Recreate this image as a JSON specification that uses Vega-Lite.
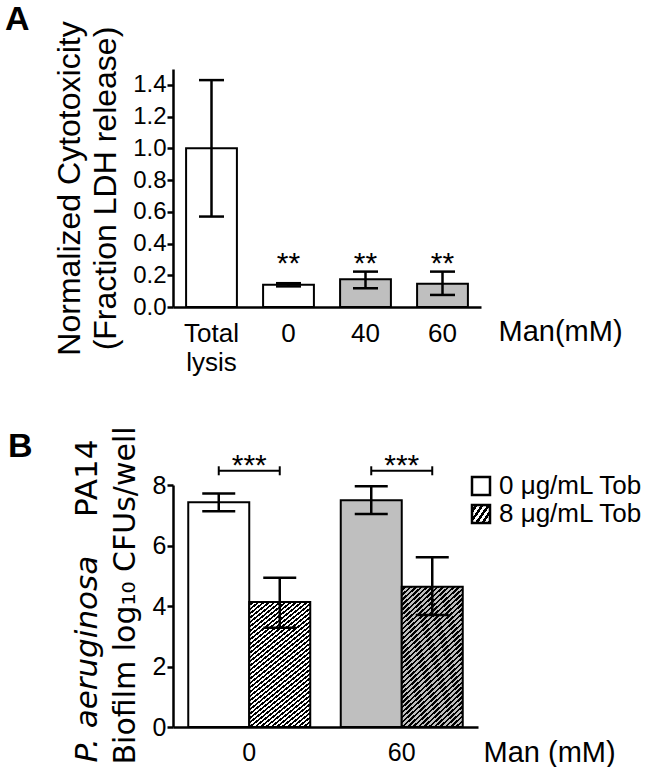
{
"$schema":"https://vega.github.io/schema/vega-lite/v6.json",
"padding":{"left":5,"top":2,"right":0,"bottom":0},
"background":"white",
"config":{
 "view":{"stroke":null},
 "font":"Liberation Sans",
 "axis":{"domainColor":"black","domainWidth":2.5,"tickColor":"black","tickWidth":2.5,"tickSize":6,"labelColor":"black","titleColor":"black","grid":false,"labelFont":"Liberation Sans","titleFont":"Liberation Sans","titleFontWeight":"normal"}
},
"datasets":{
 "lysis":[
  {"cond":"Total lysis","man_added":"no","mean":1.0,"lo":0.57,"hi":1.43,"sig":""},
  {"cond":"0","man_added":"no","mean":0.14,"lo":0.13,"hi":0.15,"sig":"**","sig_y":0.215},
  {"cond":"40","man_added":"yes","mean":0.175,"lo":0.118,"hi":0.223,"sig":"**","sig_y":0.215},
  {"cond":"60","man_added":"yes","mean":0.147,"lo":0.076,"hi":0.223,"sig":"**","sig_y":0.215}
 ],
 "bio":[
  {"man":"0","tob":"0 μg/mL Tob","mean":7.43,"lo":7.13,"hi":7.72},
  {"man":"0","tob":"8 μg/mL Tob","mean":4.13,"lo":3.28,"hi":4.93},
  {"man":"60","tob":"0 μg/mL Tob","mean":7.50,"lo":7.04,"hi":7.96},
  {"man":"60","tob":"8 μg/mL Tob","mean":4.64,"lo":3.70,"hi":5.61}
 ],
 "brackets":[
  {"man":"0","y":8.47,"stars":"***"},
  {"man":"60","y":8.47,"stars":"***"}
 ]
},
"spacing":50,
"vconcat":[
 {
  "width":308,"height":238,
  "title":{"text":"A","anchor":"start","frame":"group","font":"Liberation Sans","fontSize":34,"fontWeight":"bold","color":"black","dx":-168,"offset":-16},
  "data":{"name":"lysis"},
  "encoding":{
   "x":{"field":"cond","type":"nominal","sort":null,"scale":{"paddingInner":0.34,"paddingOuter":0.17},
    "axis":{"title":"Man(mM)","labelAngle":0,"labelFontSize":26,"labelExpr":"split(datum.value,' ')","labelLineHeight":29,"labelPadding":13,"ticks":false,"tickSize":0,"titleFontSize":29,"titleX":325,"titleY":24,"titleAlign":"left","titleBaseline":"middle","titleAnchor":"start"}}
  },
  "layer":[
   {"mark":{"type":"bar","stroke":"black","strokeWidth":2},
    "encoding":{
     "y":{"field":"mean","type":"quantitative","scale":{"domain":[0,1.5],"nice":false},
      "axis":{"title":["Normalized Cytotoxicity","(Fraction LDH release)"],"titleFontSize":32,"titleLineHeight":36,"titlePadding":10,"labelFontSize":24,"labelPadding":1,"values":[0,0.2,0.4,0.6,0.8,1.0,1.2,1.4],"format":".1f","labelOverlap":false}},
     "fill":{"field":"man_added","type":"nominal","scale":{"domain":["no","yes"],"range":["white","#bfbfbf"]},"legend":null}
    }},
   {"mark":{"type":"rule","strokeWidth":2.5,"color":"black"},
    "encoding":{"y":{"field":"lo","type":"quantitative","scale":{"domain":[0,1.5],"nice":false},
      "axis":{"title":["Normalized Cytotoxicity","(Fraction LDH release)"],"titleFontSize":32,"titleLineHeight":36,"titlePadding":10,"labelFontSize":24,"labelPadding":1,"values":[0,0.2,0.4,0.6,0.8,1.0,1.2,1.4],"format":".1f","labelOverlap":false}},"y2":{"field":"hi"}}},
   {"mark":{"type":"tick","color":"black","opacity":1,"thickness":2.5,"size":25},
    "encoding":{"y":{"field":"hi","type":"quantitative","scale":{"domain":[0,1.5],"nice":false},
      "axis":{"title":["Normalized Cytotoxicity","(Fraction LDH release)"],"titleFontSize":32,"titleLineHeight":36,"titlePadding":10,"labelFontSize":24,"labelPadding":1,"values":[0,0.2,0.4,0.6,0.8,1.0,1.2,1.4],"format":".1f","labelOverlap":false}}}},
   {"mark":{"type":"tick","color":"black","opacity":1,"thickness":2.5,"size":25},
    "encoding":{"y":{"field":"lo","type":"quantitative","scale":{"domain":[0,1.5],"nice":false},
      "axis":{"title":["Normalized Cytotoxicity","(Fraction LDH release)"],"titleFontSize":32,"titleLineHeight":36,"titlePadding":10,"labelFontSize":24,"labelPadding":1,"values":[0,0.2,0.4,0.6,0.8,1.0,1.2,1.4],"format":".1f","labelOverlap":false}}}},
   {"mark":{"type":"text","font":"Liberation Sans","fontSize":30,"baseline":"alphabetic","color":"black"},
    "encoding":{"y":{"field":"sig_y","type":"quantitative","scale":{"domain":[0,1.5],"nice":false},
      "axis":{"title":["Normalized Cytotoxicity","(Fraction LDH release)"],"titleFontSize":32,"titleLineHeight":36,"titlePadding":10,"labelFontSize":24,"labelPadding":1,"values":[0,0.2,0.4,0.6,0.8,1.0,1.2,1.4],"format":".1f","labelOverlap":false}},"text":{"field":"sig"}}}
  ]
 },
 {
  "width":305,"height":242,
  "title":{"text":"B","anchor":"start","frame":"group","font":"Liberation Sans","fontSize":34,"fontWeight":"bold","color":"black","dx":-165,"offset":-38},
  "layer":[
   {"layer":[
    {"data":{"name":"bio"},
     "transform":[{"filter":"datum.tob === '0 μg/mL Tob'"}],
     "mark":{"type":"bar","strokeWidth":2,"stroke":"black"},
     "encoding":{
      "x":{"field":"man","type":"nominal","sort":null,"scale":{"domain":["0","60"],"paddingInner":0.2,"paddingOuter":0.1},
       "axis":{"title":"Man (mM)","labelAngle":0,"labelFontSize":25,"labelPadding":13,"ticks":false,"tickSize":0,"titleFontSize":29,"titleX":310,"titleY":25,"titleAlign":"left","titleBaseline":"middle","titleAnchor":"start"}},
      "xOffset":{"field":"tob","type":"nominal","sort":null,"scale":{"domain":["0 μg/mL Tob","8 μg/mL Tob"],"paddingInner":0,"paddingOuter":0}},
      "y":{"field":"mean","type":"quantitative","scale":{"domain":[0,8],"nice":false},
       "axis":{"title":"Biofilm log₁₀ CFUs/well","titleFont":"DejaVu Sans","titleFontSize":30,"titlePadding":12,"titleAlign":"left","titleY":279,"labelFontSize":25,"labelPadding":1,"values":[0,2,4,6,8],"labelOverlap":false}},
      "color":{"field":"man","type":"nominal","scale":{"domain":["0","60"],"range":["white","#bfbfbf"]},"legend":null},
      "stroke":{"field":"tob","type":"nominal","scale":{"domain":["0 μg/mL Tob"],"range":["black"]},
       "legend":{"title":null,"orient":"none","legendX":295,"legendY":-12,"symbolType":"square","symbolSize":324,"symbolOpacity":1,"symbolFillColor":"white","symbolStrokeWidth":2.5,"labelFontSize":26,"labelFont":"Liberation Sans","labelColor":"black","labelOffset":5,"padding":0,"labelLimit":400}}
     }},
    {"data":{"name":"bio"},
     "transform":[{"filter":"datum.tob === '8 μg/mL Tob'"}],
     "mark":{"type":"bar","strokeWidth":2.5,"opacity":0},
     "encoding":{
      "x":{"field":"man","type":"nominal","sort":null},
      "xOffset":{"field":"tob","type":"nominal","sort":null},
      "y":{"field":"mean","type":"quantitative","scale":{"domain":[0,8],"nice":false}},
      "fill":{"field":"tob","type":"nominal","scale":{"range":["white"]},"legend":null},
      "stroke":{"field":"tob","type":"nominal","scale":{"domain":["8 μg/mL Tob"],"range":["black"]},
       "legend":{"title":null,"orient":"none","legendX":295,"legendY":16,"symbolType":"square","symbolSize":324,"symbolOpacity":1,"symbolStrokeWidth":2.5,"labelFontSize":26,"labelFont":"Liberation Sans","labelColor":"black","labelOffset":5,"padding":0,"labelLimit":400,
        "symbolFillColor":{"expr":"{gradient:'linear',x1:0,y1:0,x2:1.141,y2:0.799,stops:[{offset:0,color:'#fff'},{offset:0.1,color:'#fff'},{offset:0.1,color:'#000'},{offset:0.2,color:'#000'},{offset:0.2,color:'#fff'},{offset:0.3,color:'#fff'},{offset:0.3,color:'#000'},{offset:0.4,color:'#000'},{offset:0.4,color:'#fff'},{offset:0.5,color:'#fff'},{offset:0.5,color:'#000'},{offset:0.6,color:'#000'},{offset:0.6,color:'#fff'},{offset:0.7,color:'#fff'},{offset:0.7,color:'#000'},{offset:0.8,color:'#000'},{offset:0.8,color:'#fff'},{offset:0.9,color:'#fff'},{offset:0.9,color:'#000'},{offset:1,color:'#000'}]}"}}}
     }},
    {"data":{"name":"bio"},
     "transform":[{"filter":"datum.tob === '8 μg/mL Tob' && datum.man === '0'"}],
     "mark":{"type":"bar","strokeWidth":2,"stroke":"black",
      "fill":{"gradient":"linear","x1":0,"y1":0,"x2":0.476,"y2":1.207,"stops":[{"offset":0,"color":"#fff"},{"offset":0.0125,"color":"#fff"},{"offset":0.0125,"color":"#000"},{"offset":0.025,"color":"#000"},{"offset":0.025,"color":"#fff"},{"offset":0.0375,"color":"#fff"},{"offset":0.0375,"color":"#000"},{"offset":0.05,"color":"#000"},{"offset":0.05,"color":"#fff"},{"offset":0.0625,"color":"#fff"},{"offset":0.0625,"color":"#000"},{"offset":0.075,"color":"#000"},{"offset":0.075,"color":"#fff"},{"offset":0.0875,"color":"#fff"},{"offset":0.0875,"color":"#000"},{"offset":0.1,"color":"#000"},{"offset":0.1,"color":"#fff"},{"offset":0.1125,"color":"#fff"},{"offset":0.1125,"color":"#000"},{"offset":0.125,"color":"#000"},{"offset":0.125,"color":"#fff"},{"offset":0.1375,"color":"#fff"},{"offset":0.1375,"color":"#000"},{"offset":0.15,"color":"#000"},{"offset":0.15,"color":"#fff"},{"offset":0.1625,"color":"#fff"},{"offset":0.1625,"color":"#000"},{"offset":0.175,"color":"#000"},{"offset":0.175,"color":"#fff"},{"offset":0.1875,"color":"#fff"},{"offset":0.1875,"color":"#000"},{"offset":0.2,"color":"#000"},{"offset":0.2,"color":"#fff"},{"offset":0.2125,"color":"#fff"},{"offset":0.2125,"color":"#000"},{"offset":0.225,"color":"#000"},{"offset":0.225,"color":"#fff"},{"offset":0.2375,"color":"#fff"},{"offset":0.2375,"color":"#000"},{"offset":0.25,"color":"#000"},{"offset":0.25,"color":"#fff"},{"offset":0.2625,"color":"#fff"},{"offset":0.2625,"color":"#000"},{"offset":0.275,"color":"#000"},{"offset":0.275,"color":"#fff"},{"offset":0.2875,"color":"#fff"},{"offset":0.2875,"color":"#000"},{"offset":0.3,"color":"#000"},{"offset":0.3,"color":"#fff"},{"offset":0.3125,"color":"#fff"},{"offset":0.3125,"color":"#000"},{"offset":0.325,"color":"#000"},{"offset":0.325,"color":"#fff"},{"offset":0.3375,"color":"#fff"},{"offset":0.3375,"color":"#000"},{"offset":0.35,"color":"#000"},{"offset":0.35,"color":"#fff"},{"offset":0.3625,"color":"#fff"},{"offset":0.3625,"color":"#000"},{"offset":0.375,"color":"#000"},{"offset":0.375,"color":"#fff"},{"offset":0.3875,"color":"#fff"},{"offset":0.3875,"color":"#000"},{"offset":0.4,"color":"#000"},{"offset":0.4,"color":"#fff"},{"offset":0.4125,"color":"#fff"},{"offset":0.4125,"color":"#000"},{"offset":0.425,"color":"#000"},{"offset":0.425,"color":"#fff"},{"offset":0.4375,"color":"#fff"},{"offset":0.4375,"color":"#000"},{"offset":0.45,"color":"#000"},{"offset":0.45,"color":"#fff"},{"offset":0.4625,"color":"#fff"},{"offset":0.4625,"color":"#000"},{"offset":0.475,"color":"#000"},{"offset":0.475,"color":"#fff"},{"offset":0.4875,"color":"#fff"},{"offset":0.4875,"color":"#000"},{"offset":0.5,"color":"#000"},{"offset":0.5,"color":"#fff"},{"offset":0.5125,"color":"#fff"},{"offset":0.5125,"color":"#000"},{"offset":0.525,"color":"#000"},{"offset":0.525,"color":"#fff"},{"offset":0.5375,"color":"#fff"},{"offset":0.5375,"color":"#000"},{"offset":0.55,"color":"#000"},{"offset":0.55,"color":"#fff"},{"offset":0.5625,"color":"#fff"},{"offset":0.5625,"color":"#000"},{"offset":0.575,"color":"#000"},{"offset":0.575,"color":"#fff"},{"offset":0.5875,"color":"#fff"},{"offset":0.5875,"color":"#000"},{"offset":0.6,"color":"#000"},{"offset":0.6,"color":"#fff"},{"offset":0.6125,"color":"#fff"},{"offset":0.6125,"color":"#000"},{"offset":0.625,"color":"#000"},{"offset":0.625,"color":"#fff"},{"offset":0.6375,"color":"#fff"},{"offset":0.6375,"color":"#000"},{"offset":0.65,"color":"#000"},{"offset":0.65,"color":"#fff"},{"offset":0.6625,"color":"#fff"},{"offset":0.6625,"color":"#000"},{"offset":0.675,"color":"#000"},{"offset":0.675,"color":"#fff"},{"offset":0.6875,"color":"#fff"},{"offset":0.6875,"color":"#000"},{"offset":0.7,"color":"#000"},{"offset":0.7,"color":"#fff"},{"offset":0.7125,"color":"#fff"},{"offset":0.7125,"color":"#000"},{"offset":0.725,"color":"#000"},{"offset":0.725,"color":"#fff"},{"offset":0.7375,"color":"#fff"},{"offset":0.7375,"color":"#000"},{"offset":0.75,"color":"#000"},{"offset":0.75,"color":"#fff"},{"offset":0.7625,"color":"#fff"},{"offset":0.7625,"color":"#000"},{"offset":0.775,"color":"#000"},{"offset":0.775,"color":"#fff"},{"offset":0.7875,"color":"#fff"},{"offset":0.7875,"color":"#000"},{"offset":0.8,"color":"#000"},{"offset":0.8,"color":"#fff"},{"offset":0.8125,"color":"#fff"},{"offset":0.8125,"color":"#000"},{"offset":0.825,"color":"#000"},{"offset":0.825,"color":"#fff"},{"offset":0.8375,"color":"#fff"},{"offset":0.8375,"color":"#000"},{"offset":0.85,"color":"#000"},{"offset":0.85,"color":"#fff"},{"offset":0.8625,"color":"#fff"},{"offset":0.8625,"color":"#000"},{"offset":0.875,"color":"#000"},{"offset":0.875,"color":"#fff"},{"offset":0.8875,"color":"#fff"},{"offset":0.8875,"color":"#000"},{"offset":0.9,"color":"#000"},{"offset":0.9,"color":"#fff"},{"offset":0.9125,"color":"#fff"},{"offset":0.9125,"color":"#000"},{"offset":0.925,"color":"#000"},{"offset":0.925,"color":"#fff"},{"offset":0.9375,"color":"#fff"},{"offset":0.9375,"color":"#000"},{"offset":0.95,"color":"#000"},{"offset":0.95,"color":"#fff"},{"offset":0.9625,"color":"#fff"},{"offset":0.9625,"color":"#000"},{"offset":0.975,"color":"#000"},{"offset":0.975,"color":"#fff"},{"offset":0.9875,"color":"#fff"},{"offset":0.9875,"color":"#000"},{"offset":1,"color":"#000"}]}},
     "encoding":{
      "x":{"field":"man","type":"nominal","sort":null},
      "xOffset":{"field":"tob","type":"nominal","sort":null},
      "y":{"field":"mean","type":"quantitative","scale":{"domain":[0,8],"nice":false}}
     }},
    {"data":{"name":"bio"},
     "transform":[{"filter":"datum.tob === '8 μg/mL Tob' && datum.man === '60'"}],
     "mark":{"type":"bar","strokeWidth":2,"stroke":"black",
      "fill":{"gradient":"linear","x1":0,"y1":0,"x2":0.476,"y2":1.207,"stops":[{"offset":0,"color":"#bfbfbf"},{"offset":0.0125,"color":"#bfbfbf"},{"offset":0.0125,"color":"#000"},{"offset":0.025,"color":"#000"},{"offset":0.025,"color":"#bfbfbf"},{"offset":0.0375,"color":"#bfbfbf"},{"offset":0.0375,"color":"#000"},{"offset":0.05,"color":"#000"},{"offset":0.05,"color":"#bfbfbf"},{"offset":0.0625,"color":"#bfbfbf"},{"offset":0.0625,"color":"#000"},{"offset":0.075,"color":"#000"},{"offset":0.075,"color":"#bfbfbf"},{"offset":0.0875,"color":"#bfbfbf"},{"offset":0.0875,"color":"#000"},{"offset":0.1,"color":"#000"},{"offset":0.1,"color":"#bfbfbf"},{"offset":0.1125,"color":"#bfbfbf"},{"offset":0.1125,"color":"#000"},{"offset":0.125,"color":"#000"},{"offset":0.125,"color":"#bfbfbf"},{"offset":0.1375,"color":"#bfbfbf"},{"offset":0.1375,"color":"#000"},{"offset":0.15,"color":"#000"},{"offset":0.15,"color":"#bfbfbf"},{"offset":0.1625,"color":"#bfbfbf"},{"offset":0.1625,"color":"#000"},{"offset":0.175,"color":"#000"},{"offset":0.175,"color":"#bfbfbf"},{"offset":0.1875,"color":"#bfbfbf"},{"offset":0.1875,"color":"#000"},{"offset":0.2,"color":"#000"},{"offset":0.2,"color":"#bfbfbf"},{"offset":0.2125,"color":"#bfbfbf"},{"offset":0.2125,"color":"#000"},{"offset":0.225,"color":"#000"},{"offset":0.225,"color":"#bfbfbf"},{"offset":0.2375,"color":"#bfbfbf"},{"offset":0.2375,"color":"#000"},{"offset":0.25,"color":"#000"},{"offset":0.25,"color":"#bfbfbf"},{"offset":0.2625,"color":"#bfbfbf"},{"offset":0.2625,"color":"#000"},{"offset":0.275,"color":"#000"},{"offset":0.275,"color":"#bfbfbf"},{"offset":0.2875,"color":"#bfbfbf"},{"offset":0.2875,"color":"#000"},{"offset":0.3,"color":"#000"},{"offset":0.3,"color":"#bfbfbf"},{"offset":0.3125,"color":"#bfbfbf"},{"offset":0.3125,"color":"#000"},{"offset":0.325,"color":"#000"},{"offset":0.325,"color":"#bfbfbf"},{"offset":0.3375,"color":"#bfbfbf"},{"offset":0.3375,"color":"#000"},{"offset":0.35,"color":"#000"},{"offset":0.35,"color":"#bfbfbf"},{"offset":0.3625,"color":"#bfbfbf"},{"offset":0.3625,"color":"#000"},{"offset":0.375,"color":"#000"},{"offset":0.375,"color":"#bfbfbf"},{"offset":0.3875,"color":"#bfbfbf"},{"offset":0.3875,"color":"#000"},{"offset":0.4,"color":"#000"},{"offset":0.4,"color":"#bfbfbf"},{"offset":0.4125,"color":"#bfbfbf"},{"offset":0.4125,"color":"#000"},{"offset":0.425,"color":"#000"},{"offset":0.425,"color":"#bfbfbf"},{"offset":0.4375,"color":"#bfbfbf"},{"offset":0.4375,"color":"#000"},{"offset":0.45,"color":"#000"},{"offset":0.45,"color":"#bfbfbf"},{"offset":0.4625,"color":"#bfbfbf"},{"offset":0.4625,"color":"#000"},{"offset":0.475,"color":"#000"},{"offset":0.475,"color":"#bfbfbf"},{"offset":0.4875,"color":"#bfbfbf"},{"offset":0.4875,"color":"#000"},{"offset":0.5,"color":"#000"},{"offset":0.5,"color":"#bfbfbf"},{"offset":0.5125,"color":"#bfbfbf"},{"offset":0.5125,"color":"#000"},{"offset":0.525,"color":"#000"},{"offset":0.525,"color":"#bfbfbf"},{"offset":0.5375,"color":"#bfbfbf"},{"offset":0.5375,"color":"#000"},{"offset":0.55,"color":"#000"},{"offset":0.55,"color":"#bfbfbf"},{"offset":0.5625,"color":"#bfbfbf"},{"offset":0.5625,"color":"#000"},{"offset":0.575,"color":"#000"},{"offset":0.575,"color":"#bfbfbf"},{"offset":0.5875,"color":"#bfbfbf"},{"offset":0.5875,"color":"#000"},{"offset":0.6,"color":"#000"},{"offset":0.6,"color":"#bfbfbf"},{"offset":0.6125,"color":"#bfbfbf"},{"offset":0.6125,"color":"#000"},{"offset":0.625,"color":"#000"},{"offset":0.625,"color":"#bfbfbf"},{"offset":0.6375,"color":"#bfbfbf"},{"offset":0.6375,"color":"#000"},{"offset":0.65,"color":"#000"},{"offset":0.65,"color":"#bfbfbf"},{"offset":0.6625,"color":"#bfbfbf"},{"offset":0.6625,"color":"#000"},{"offset":0.675,"color":"#000"},{"offset":0.675,"color":"#bfbfbf"},{"offset":0.6875,"color":"#bfbfbf"},{"offset":0.6875,"color":"#000"},{"offset":0.7,"color":"#000"},{"offset":0.7,"color":"#bfbfbf"},{"offset":0.7125,"color":"#bfbfbf"},{"offset":0.7125,"color":"#000"},{"offset":0.725,"color":"#000"},{"offset":0.725,"color":"#bfbfbf"},{"offset":0.7375,"color":"#bfbfbf"},{"offset":0.7375,"color":"#000"},{"offset":0.75,"color":"#000"},{"offset":0.75,"color":"#bfbfbf"},{"offset":0.7625,"color":"#bfbfbf"},{"offset":0.7625,"color":"#000"},{"offset":0.775,"color":"#000"},{"offset":0.775,"color":"#bfbfbf"},{"offset":0.7875,"color":"#bfbfbf"},{"offset":0.7875,"color":"#000"},{"offset":0.8,"color":"#000"},{"offset":0.8,"color":"#bfbfbf"},{"offset":0.8125,"color":"#bfbfbf"},{"offset":0.8125,"color":"#000"},{"offset":0.825,"color":"#000"},{"offset":0.825,"color":"#bfbfbf"},{"offset":0.8375,"color":"#bfbfbf"},{"offset":0.8375,"color":"#000"},{"offset":0.85,"color":"#000"},{"offset":0.85,"color":"#bfbfbf"},{"offset":0.8625,"color":"#bfbfbf"},{"offset":0.8625,"color":"#000"},{"offset":0.875,"color":"#000"},{"offset":0.875,"color":"#bfbfbf"},{"offset":0.8875,"color":"#bfbfbf"},{"offset":0.8875,"color":"#000"},{"offset":0.9,"color":"#000"},{"offset":0.9,"color":"#bfbfbf"},{"offset":0.9125,"color":"#bfbfbf"},{"offset":0.9125,"color":"#000"},{"offset":0.925,"color":"#000"},{"offset":0.925,"color":"#bfbfbf"},{"offset":0.9375,"color":"#bfbfbf"},{"offset":0.9375,"color":"#000"},{"offset":0.95,"color":"#000"},{"offset":0.95,"color":"#bfbfbf"},{"offset":0.9625,"color":"#bfbfbf"},{"offset":0.9625,"color":"#000"},{"offset":0.975,"color":"#000"},{"offset":0.975,"color":"#bfbfbf"},{"offset":0.9875,"color":"#bfbfbf"},{"offset":0.9875,"color":"#000"},{"offset":1,"color":"#000"}]}},
     "encoding":{
      "x":{"field":"man","type":"nominal","sort":null},
      "xOffset":{"field":"tob","type":"nominal","sort":null},
      "y":{"field":"mean","type":"quantitative","scale":{"domain":[0,8],"nice":false}}
     }},
    {"data":{"name":"bio"},
     "mark":{"type":"rule","strokeWidth":2.5,"color":"black"},
     "encoding":{
      "x":{"field":"man","type":"nominal","sort":null},
      "xOffset":{"field":"tob","type":"nominal","sort":null},
      "y":{"field":"lo","type":"quantitative","scale":{"domain":[0,8],"nice":false}},
      "y2":{"field":"hi"}}},
    {"data":{"name":"bio"},
     "mark":{"type":"tick","color":"black","opacity":1,"thickness":2.5,"size":33},
     "encoding":{
      "x":{"field":"man","type":"nominal","sort":null},
      "xOffset":{"field":"tob","type":"nominal","sort":null},
      "y":{"field":"hi","type":"quantitative","scale":{"domain":[0,8],"nice":false}}}},
    {"data":{"name":"bio"},
     "mark":{"type":"tick","color":"black","opacity":1,"thickness":2.5,"size":33},
     "encoding":{
      "x":{"field":"man","type":"nominal","sort":null},
      "xOffset":{"field":"tob","type":"nominal","sort":null},
      "y":{"field":"lo","type":"quantitative","scale":{"domain":[0,8],"nice":false}}}},
    {"data":{"name":"brackets"},
     "mark":{"type":"rule","strokeWidth":2,"color":"black"},
     "encoding":{
      "x":{"field":"man","type":"nominal","sort":null,"bandPosition":0.25},
      "x2":{"field":"man","bandPosition":0.75},
      "y":{"field":"y","type":"quantitative","scale":{"domain":[0,8],"nice":false}}}},
    {"data":{"name":"brackets"},
     "mark":{"type":"tick","orient":"vertical","color":"black","opacity":1,"thickness":2,"size":9},
     "encoding":{
      "x":{"field":"man","type":"nominal","sort":null,"bandPosition":0.25},
      "y":{"field":"y","type":"quantitative","scale":{"domain":[0,8],"nice":false}}}},
    {"data":{"name":"brackets"},
     "mark":{"type":"tick","orient":"vertical","color":"black","opacity":1,"thickness":2,"size":9},
     "encoding":{
      "x":{"field":"man","type":"nominal","sort":null,"bandPosition":0.75},
      "y":{"field":"y","type":"quantitative","scale":{"domain":[0,8],"nice":false}}}},
    {"data":{"name":"brackets"},
     "mark":{"type":"text","font":"Liberation Sans","fontSize":30,"baseline":"alphabetic","dy":4,"color":"black"},
     "encoding":{
      "x":{"field":"man","type":"nominal","sort":null},
      "y":{"field":"y","type":"quantitative","scale":{"domain":[0,8],"nice":false}},
      "text":{"field":"stars"}}}
   ],
   "resolve":{"scale":{"stroke":"independent"}}},
   {"data":{"name":"bio"},
    "mark":{"type":"tick","opacity":0},
    "encoding":{
     "x":{"field":"man","type":"nominal","sort":null},
     "y":{"field":"mean","type":"quantitative","scale":{"domain":[0,8],"nice":false},
      "axis":{"orient":"left","title":"P. aeruginosa","titleFont":"DejaVu Sans","titleFontStyle":"italic","titleFontSize":31,"titlePadding":70,"titleAlign":"left","titleY":277,"labels":false,"ticks":false,"domain":false}}}},
   {"data":{"name":"bio"},
    "mark":{"type":"tick","opacity":0},
    "encoding":{
     "x":{"field":"man","type":"nominal","sort":null},
     "y":{"field":"mean","type":"quantitative","scale":{"domain":[0,8],"nice":false},
      "axis":{"orient":"left","title":"PA14","titleFont":"DejaVu Sans","titleFontSize":31,"titlePadding":70,"titleAlign":"right","titleY":-46,"labels":false,"ticks":false,"domain":false}}}}
  ],
  "resolve":{"scale":{"y":"independent"}}
 }
]
}
